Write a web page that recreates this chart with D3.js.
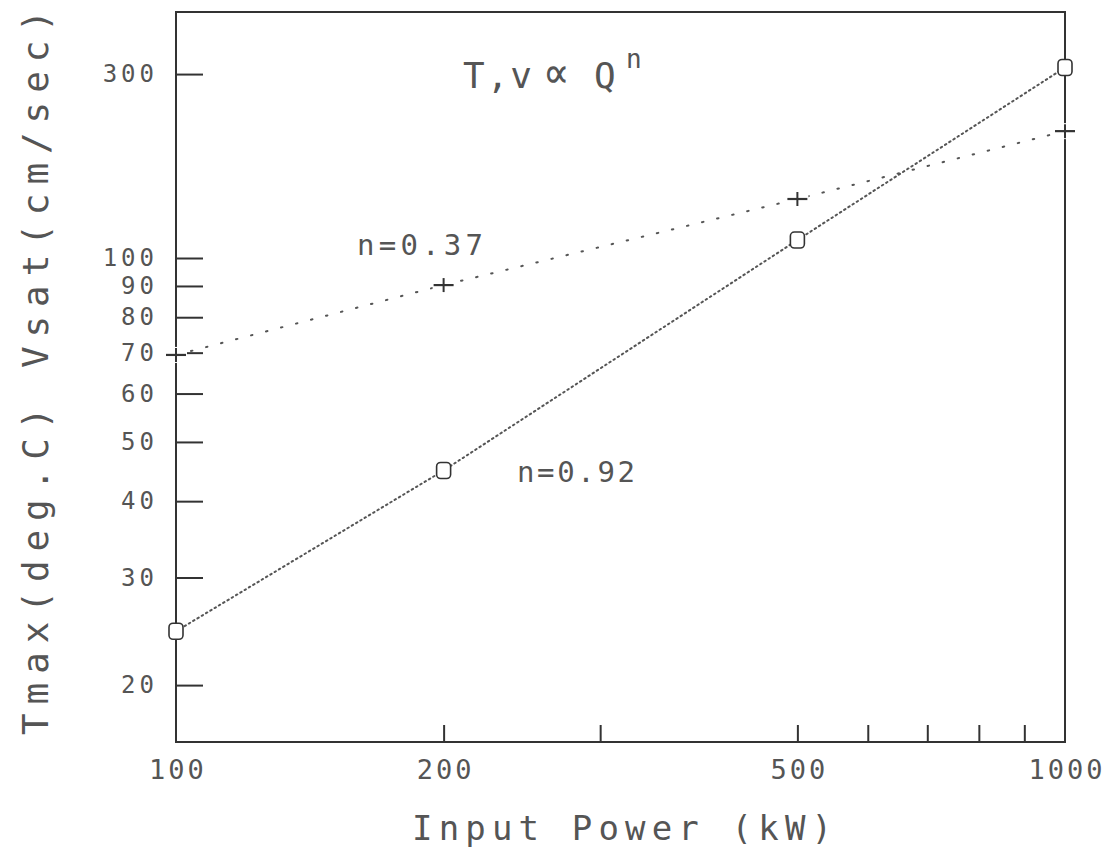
<!DOCTYPE html>
<html>
<head>
<meta charset="utf-8">
<script src="https://cdn.jsdelivr.net/npm/d3@7"></script>
<style>
  html, body { margin: 0; padding: 0; background: #fff; }
  svg { display: block; }
  text { font-family: "DejaVu Sans Mono", "Liberation Mono", monospace; fill: #555; }
</style>
</head>
<body>
<svg id="chart" width="1115" height="861"></svg>
<script>
// ---- data ----
const powerKW = [100, 200, 500, 1000];
const tmaxDegC = [24.5, 44.9, 107, 205];
const vsatCmSec = [69.4, 90.3, 124.9, 161.3];

const xTickValues = [200, 300, 500, 600, 700, 800, 900];
const xLabelValues = [100, 200, 500, 1000];
const xLabelTexts = ["100", "200", "500", "1000"];

const yTickValues = [20, 30, 40, 50, 60, 70, 80, 90, 100, 200];
const yTickLabels = ["20", "30", "40", "50", "60", "70", "80", "90", "100", "300"];

const titleParts = ["T,v", "\u221D", "Q"];
const titleExp = "n";
const fitLabels = ["n=0.37", "n=0.92"];
const xTitle = "Input Power (kW)";
const yTitle = "Tmax(deg.C)  Vsat(cm/sec)";

// ---- layout ----
const W = 1115, H = 861;
const plotL = 176, plotR = 1065, plotT = 12, plotB = 742;

const svg = d3.select("#chart");
svg.append("rect").attr("width", W).attr("height", H).attr("fill", "#fff");

const x = d3.scaleLog().domain([100, 1000]).range([plotL, plotR]);
const y = d3.scaleLog().domain([16.14, 252.7]).range([plotB, plotT]);

const ink = "#333";
const txt = "#555";

// frame
svg.append("rect")
  .attr("x", plotL).attr("y", plotT)
  .attr("width", plotR - plotL).attr("height", plotB - plotT)
  .attr("fill", "none").attr("stroke", ink).attr("stroke-width", 2);

// y axis (inward ticks)
const yAxis = svg.append("g").attr("transform", `translate(${plotL},0)`)
  .call(d3.axisLeft(y).tickValues(yTickValues)
    .tickSizeInner(-27).tickSizeOuter(0).tickPadding(18)
    .tickFormat((d, i) => yTickLabels[i]));
yAxis.select(".domain").remove();
yAxis.selectAll(".tick line").attr("stroke", ink).attr("stroke-width", 2);
yAxis.selectAll(".tick text").attr("font-size", 24).attr("letter-spacing", 4)
  .attr("font-family", "DejaVu Sans Mono").attr("fill", txt);

// x axis ticks (inward)
const xAxis = svg.append("g").attr("transform", `translate(0,${plotB})`)
  .call(d3.axisBottom(x).tickValues(xTickValues)
    .tickSizeInner(-17).tickSizeOuter(0).tickFormat(""));
xAxis.select(".domain").remove();
xAxis.selectAll(".tick line").attr("stroke", ink).attr("stroke-width", 2);

// x axis labels
const xLab = svg.append("g").attr("transform", `translate(0,${plotB})`)
  .call(d3.axisBottom(x).tickValues(xLabelValues)
    .tickSize(0).tickFormat((d, i) => xLabelTexts[i]));
xLab.select(".domain").remove();
xLab.selectAll(".tick text").attr("y", 37).attr("dy", null)
  .attr("font-size", 27).attr("letter-spacing", 3).attr("dx", 1.5)
  .attr("font-family", "DejaVu Sans Mono").attr("fill", txt);

// lines
const lineGen = d3.line().x(d => x(d[0])).y(d => y(d[1]));
const tmaxPts = powerKW.map((p, i) => [p, tmaxDegC[i]]);
const vsatPts = powerKW.map((p, i) => [p, vsatCmSec[i]]);

svg.append("path").attr("d", lineGen(tmaxPts))
  .attr("fill", "none").attr("stroke", "#555").attr("stroke-width", 2)
  .attr("stroke-dasharray", "1.5,3.5").attr("stroke-linecap", "round");
svg.append("path").attr("d", lineGen(vsatPts))
  .attr("fill", "none").attr("stroke", "#555").attr("stroke-width", 2)
  .attr("stroke-dasharray", "1.5,14").attr("stroke-linecap", "round");

// circle markers (Tmax)
svg.append("g").selectAll("rect").data(tmaxPts).join("rect")
  .attr("x", d => x(d[0]) - 7).attr("y", d => y(d[1]) - 8)
  .attr("width", 14).attr("height", 16).attr("rx", 4)
  .attr("fill", "#fff").attr("stroke", ink).attr("stroke-width", 1.6);

// plus markers (Vsat)
const plus = svg.append("g").selectAll("g").data(vsatPts).join("g")
  .attr("transform", d => `translate(${x(d[0])},${y(d[1])})`);
plus.append("rect").attr("x", -11).attr("y", -8).attr("width", 22).attr("height", 16).attr("fill", "#fff");
plus.append("line").attr("x1", -10).attr("x2", 10).attr("y1", 0).attr("y2", 0)
  .attr("stroke", ink).attr("stroke-width", 2.2);
plus.append("line").attr("x1", 0).attr("x2", 0).attr("y1", -7).attr("y2", 7)
  .attr("stroke", ink).attr("stroke-width", 2);

// title  T,v ∝ Q^n
const title = svg.append("text").attr("y", 88).attr("font-size", 36);
title.append("tspan").attr("x", 463).attr("letter-spacing", 2).text(titleParts[0]);
title.append("tspan").attr("x", 543).attr("font-size", 44).text(titleParts[1]);
title.append("tspan").attr("x", 594).text(titleParts[2]);
svg.append("text").attr("x", 626).attr("y", 68)
  .attr("font-size", 26).text(titleExp);

// fit labels
svg.append("text").attr("x", 357).attr("y", 255)
  .attr("font-size", 29).attr("textLength", 126).attr("lengthAdjust", "spacing")
  .text(fitLabels[0]);
svg.append("text").attr("x", 517).attr("y", 482)
  .attr("font-size", 29).attr("textLength", 118).attr("lengthAdjust", "spacing")
  .text(fitLabels[1]);

// axis titles
svg.append("text").attr("x", 412).attr("y", 840)
  .attr("font-size", 34).attr("textLength", 420).attr("lengthAdjust", "spacing")
  .text(xTitle);
svg.append("text")
  .attr("transform", "translate(48,735) rotate(-90)")
  .attr("x", 0).attr("y", 0)
  .attr("font-size", 36).attr("textLength", 725).attr("lengthAdjust", "spacing")
  .text(yTitle);
</script>
</body>
</html>
